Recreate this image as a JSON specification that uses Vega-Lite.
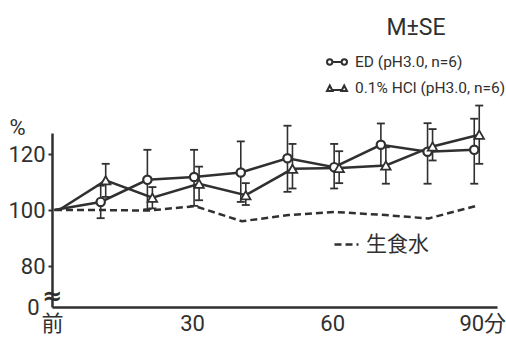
{
  "$schema": "https://vega.github.io/schema/vega-lite/v6.json",
  "width": 445,
  "height": 174,
  "autosize": {"type": "none"},
  "padding": {"left": 52, "top": 133, "right": 9, "bottom": 33},
  "background": "white",
  "config": {
    "view": {"stroke": null},
    "font": "Roboto, Noto Sans CJK JP",
    "axis": {
      "domainColor": "#303030",
      "domainWidth": 2.5,
      "grid": false,
      "labelColor": "#303030",
      "labelFont": "Roboto, Noto Sans CJK JP",
      "labelFontSize": 22,
      "tickColor": "#303030",
      "tickWidth": 2,
      "titleColor": "#303030"
    },
    "legend": {
      "labelColor": "#303030",
      "titleColor": "#303030"
    }
  },
  "datasets": {
    "d": [
      {"series": "ED (pH3.0, n=6)", "t": 0, "m": 100},
      {"series": "ED (pH3.0, n=6)", "t": 10, "m": 102.9, "lo": 97.1, "hi": 108.7},
      {"series": "ED (pH3.0, n=6)", "t": 20, "m": 110.8, "lo": 100.3, "hi": 121.5},
      {"series": "ED (pH3.0, n=6)", "t": 30, "m": 111.8, "lo": 101.5, "hi": 121.5},
      {"series": "ED (pH3.0, n=6)", "t": 40, "m": 113.4, "lo": 102.9, "hi": 124.5},
      {"series": "ED (pH3.0, n=6)", "t": 50, "m": 118.5, "lo": 106.5, "hi": 130.1},
      {"series": "ED (pH3.0, n=6)", "t": 60, "m": 115.3, "lo": 107.7, "hi": 123.6},
      {"series": "ED (pH3.0, n=6)", "t": 70, "m": 123.3, "lo": 115.7, "hi": 130.9},
      {"series": "ED (pH3.0, n=6)", "t": 80, "m": 120.8, "lo": 109.4, "hi": 131.0},
      {"series": "ED (pH3.0, n=6)", "t": 90, "m": 121.5, "lo": 109.4, "hi": 132.6},
      {"series": "0.1% HCl (pH3.0, n=6)", "t": 0, "m": 100},
      {"series": "0.1% HCl (pH3.0, n=6)", "t": 10, "m": 110.6, "lo": 104.7, "hi": 116.5},
      {"series": "0.1% HCl (pH3.0, n=6)", "t": 20, "m": 104.4, "lo": 100.6, "hi": 108.2},
      {"series": "0.1% HCl (pH3.0, n=6)", "t": 30, "m": 109.4, "lo": 103.5, "hi": 115.5},
      {"series": "0.1% HCl (pH3.0, n=6)", "t": 40, "m": 105.3, "lo": 101.8, "hi": 109.6},
      {"series": "0.1% HCl (pH3.0, n=6)", "t": 50, "m": 114.7, "lo": 107.7, "hi": 123.6},
      {"series": "0.1% HCl (pH3.0, n=6)", "t": 60, "m": 115.0, "lo": 109.6, "hi": 121.0},
      {"series": "0.1% HCl (pH3.0, n=6)", "t": 70, "m": 115.9, "lo": 109.4, "hi": 122.4},
      {"series": "0.1% HCl (pH3.0, n=6)", "t": 80, "m": 122.7, "lo": 117.7, "hi": 128.9},
      {"series": "0.1% HCl (pH3.0, n=6)", "t": 90, "m": 126.9, "lo": 116.5, "hi": 137.3},
      {"series": "生食水", "t": 0, "m": 100},
      {"series": "生食水", "t": 10, "m": 100},
      {"series": "生食水", "t": 20, "m": 99.8},
      {"series": "生食水", "t": 30, "m": 101.4},
      {"series": "生食水", "t": 40, "m": 96.0},
      {"series": "生食水", "t": 50, "m": 98.2},
      {"series": "生食水", "t": 60, "m": 99.3},
      {"series": "生食水", "t": 70, "m": 98.3},
      {"series": "生食水", "t": 80, "m": 97.0},
      {"series": "生食水", "t": 90, "m": 101.4}
    ],
    "brk": [{"t": 0, "m": 68.8, "sym": "≈"}]
  },
  "data": {"name": "d"},
  "encoding": {
    "x": {
      "field": "t",
      "type": "quantitative",
      "scale": {"domain": [0, 95.3], "nice": false, "zero": false},
      "axis": {
        "title": null,
        "values": [0, 30, 60, 90],
        "labelExpr": "datum.value == 0 ? '前' : datum.value == 90 ? '90分' : datum.label",
        "ticks": false,
        "labelPadding": 6,
        "labelFlush": false,
        "labelOverlap": false,
        "labelOffset": {"condition": {"test": "datum.value == 90", "value": 10}, "value": 0}
      }
    },
    "y": {
      "field": "m",
      "type": "quantitative",
      "scale": {"domain": [65.4, 127.5], "nice": false, "zero": false},
      "axis": {
        "title": "%",
        "titleAngle": 0,
        "titleX": -35,
        "titleY": -6,
        "titleAlign": "center",
        "titleBaseline": "middle",
        "titleFontSize": 22,
        "titleFontWeight": "normal",
        "titleFont": "Roboto",
        "values": [65.4, 80, 100, 120],
        "labelExpr": "datum.value < 70 ? '0' : datum.label",
        "tickSize": 4,
        "tickOpacity": {"condition": {"test": "datum.value < 70", "value": 0}, "value": 1},
        "labelPadding": {"condition": {"test": "datum.value < 70", "value": 9}, "value": 3},
        "labelFlush": false,
        "labelOverlap": false
      }
    }
  },
  "layer": [
    {
      "transform": [{"filter": "datum.series == '生食水'"}],
      "mark": {"type": "line", "color": "#303030", "strokeWidth": 2.5, "xOffset": 3},
      "encoding": {
        "strokeDash": {
          "field": "series",
          "type": "nominal",
          "scale": {"domain": ["生食水"], "range": [[7, 4]]},
          "legend": {
            "orient": "none",
            "legendX": 281,
            "legendY": 98,
            "title": null,
            "symbolSize": 576,
            "symbolStrokeWidth": 2.5,
            "symbolStrokeColor": "#303030",
            "labelFont": "Noto Sans CJK JP",
            "labelFontSize": 21,
            "labelOffset": 6
          }
        }
      }
    },
    {
      "transform": [{"filter": "datum.series == 'ED (pH3.0, n=6)'"}],
      "mark": {"type": "line", "color": "#303030", "strokeWidth": 2.5, "xOffset": 2}
    },
    {
      "transform": [{"filter": "datum.series == '0.1% HCl (pH3.0, n=6)'"}],
      "mark": {"type": "line", "color": "#303030", "strokeWidth": 2.5, "xOffset": 7}
    },
    {
      "transform": [{"filter": "datum.series == 'ED (pH3.0, n=6)' && isValid(datum.lo)"}],
      "mark": {"type": "rule", "color": "#303030", "strokeWidth": 1.6, "xOffset": 2},
      "encoding": {"y": {"field": "lo", "type": "quantitative"}, "y2": {"field": "hi"}}
    },
    {
      "transform": [{"filter": "datum.series == '0.1% HCl (pH3.0, n=6)' && isValid(datum.lo)"}],
      "mark": {"type": "rule", "color": "#303030", "strokeWidth": 1.6, "xOffset": 7},
      "encoding": {"y": {"field": "lo", "type": "quantitative"}, "y2": {"field": "hi"}}
    },
    {
      "transform": [
        {"filter": "datum.series == 'ED (pH3.0, n=6)' && isValid(datum.lo)"},
        {"fold": ["lo", "hi"], "as": ["end", "v"]}
      ],
      "mark": {"type": "point", "shape": "M -1 0 L 1 0", "size": 64, "color": "#303030", "strokeWidth": 1.8, "xOffset": 2, "opacity": 1},
      "encoding": {"y": {"field": "v", "type": "quantitative"}}
    },
    {
      "transform": [
        {"filter": "datum.series == '0.1% HCl (pH3.0, n=6)' && isValid(datum.lo)"},
        {"fold": ["lo", "hi"], "as": ["end", "v"]}
      ],
      "mark": {"type": "point", "shape": "M -1 0 L 1 0", "size": 64, "color": "#303030", "strokeWidth": 1.8, "xOffset": 7, "opacity": 1},
      "encoding": {"y": {"field": "v", "type": "quantitative"}}
    },
    {
      "transform": [{"filter": "datum.series == 'ED (pH3.0, n=6)' && datum.t > 0"}],
      "mark": {"type": "point", "shape": "circle", "size": 70, "filled": true, "fill": "white", "stroke": "#303030", "strokeWidth": 2.2, "xOffset": 2, "opacity": 1}
    },
    {
      "transform": [{"filter": "datum.series == '0.1% HCl (pH3.0, n=6)' && datum.t > 0"}],
      "mark": {"type": "point", "shape": "triangle-up", "size": 90, "filled": true, "fill": "white", "stroke": "#303030", "strokeWidth": 1.8, "xOffset": 7, "opacity": 1}
    },
    {
      "transform": [{"filter": "datum.t < 0"}],
      "mark": {"type": "point", "color": "#303030"},
      "encoding": {
        "shape": {
          "field": "series",
          "type": "nominal",
          "scale": {
            "domain": ["ED (pH3.0, n=6)", "0.1% HCl (pH3.0, n=6)"],
            "range": [
              "M -1 0 A 0.27 0.27 0 1 1 -0.46 0 A 0.27 0.27 0 1 1 -1 0 Z M -0.46 0 L 0.46 0 M 0.46 0 A 0.27 0.27 0 1 1 1 0 A 0.27 0.27 0 1 1 0.46 0 Z",
              "M -1 0.3 L -0.72 -0.25 L -0.44 0.3 Z M -0.44 0.2 L 0.44 0.2 M 0.44 0.3 L 0.72 -0.25 L 1 0.3 Z"
            ]
          },
          "legend": {
            "orient": "none",
            "legendX": 274,
            "legendY": -116,
            "title": "M±SE",
            "titleFont": "Roboto",
            "titleFontSize": 23,
            "titleFontWeight": "normal",
            "titleAnchor": "middle",
            "titlePadding": 11,
            "labelFont": "Roboto",
            "labelFontSize": 15.5,
            "labelLimit": 0,
            "labelOffset": 7,
            "symbolSize": 400,
            "symbolStrokeWidth": 2,
            "symbolStrokeColor": "#303030",
            "symbolFillColor": "white",
            "symbolOpacity": 1,
            "rowPadding": 6
          }
        }
      }
    },
    {
      "data": {"name": "brk"},
      "mark": {"type": "text", "fontSize": 24, "fontWeight": "bold", "color": "#303030", "font": "DejaVu Sans", "baseline": "middle", "align": "center"},
      "encoding": {"text": {"field": "sym"}}
    }
  ]
}
